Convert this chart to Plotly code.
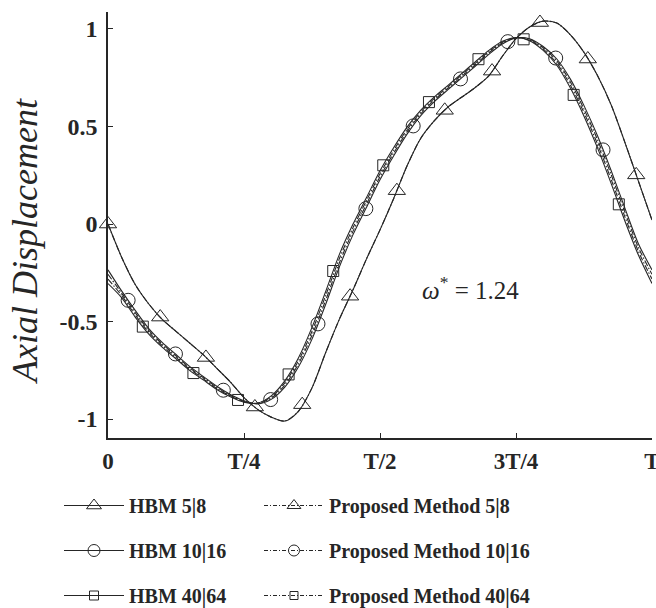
import plotly.graph_objects as go

# ---------------- data ----------------
t = [0.000, 0.025, 0.050, 0.075, 0.100, 0.125, 0.150, 0.175, 0.200, 0.225,
     0.250, 0.275, 0.300, 0.325, 0.350, 0.375, 0.400, 0.425, 0.450, 0.475,
     0.500, 0.525, 0.550, 0.575, 0.600, 0.625, 0.650, 0.675, 0.700, 0.725,
     0.750, 0.775, 0.800, 0.825, 0.850, 0.875, 0.900, 0.925, 0.950, 0.975, 1.000]

hbm_5_8 = [0.00, -0.17, -0.31, -0.41, -0.49, -0.55, -0.61, -0.67, -0.74, -0.81,
           -0.89, -0.95, -0.99, -1.01, -0.96, -0.84, -0.66, -0.49, -0.34, -0.18,
           -0.03, 0.13, 0.30, 0.44, 0.53, 0.60, 0.65, 0.70, 0.76, 0.86,
           0.95, 1.01, 1.04, 1.03, 0.97, 0.88, 0.76, 0.61, 0.42, 0.22, 0.02]
pm_5_8 = [0.00, -0.17, -0.31, -0.41, -0.49, -0.55, -0.61, -0.67, -0.74, -0.81,
          -0.89, -0.95, -0.99, -1.01, -0.96, -0.84, -0.66, -0.49, -0.34, -0.18,
          -0.03, 0.13, 0.30, 0.44, 0.53, 0.60, 0.65, 0.70, 0.76, 0.86,
          0.95, 1.01, 1.04, 1.03, 0.97, 0.88, 0.76, 0.61, 0.42, 0.22, 0.02]
hbm_10_16 = [-0.235, -0.343, -0.443, -0.536, -0.608, -0.669, -0.730, -0.781, -0.832, -0.874,
             -0.906, -0.922, -0.899, -0.836, -0.733, -0.590, -0.413, -0.222, -0.057, 0.085,
             0.227, 0.349, 0.462, 0.556, 0.628, 0.689, 0.749, 0.809, 0.870, 0.923,
             0.954, 0.950, 0.910, 0.846, 0.743, 0.607, 0.451, 0.273, 0.083, -0.101, -0.235]
pm_10_16 = [-0.258, -0.354, -0.454, -0.545, -0.616, -0.676, -0.737, -0.787, -0.837, -0.878,
            -0.909, -0.921, -0.893, -0.826, -0.718, -0.570, -0.392, -0.201, -0.039, 0.101,
            0.242, 0.363, 0.474, 0.565, 0.636, 0.696, 0.756, 0.816, 0.877, 0.928,
            0.955, 0.947, 0.904, 0.836, 0.728, 0.589, 0.431, 0.252, 0.062, -0.120, -0.258]
hbm_40_64 = [-0.305, -0.377, -0.477, -0.564, -0.632, -0.691, -0.750, -0.799, -0.848, -0.886,
             -0.914, -0.918, -0.881, -0.804, -0.687, -0.530, -0.347, -0.158, -0.003, 0.135,
             0.273, 0.391, 0.498, 0.584, 0.652, 0.711, 0.771, 0.831, 0.890, 0.937,
             0.956, 0.940, 0.890, 0.814, 0.697, 0.553, 0.389, 0.207, 0.017, -0.159, -0.305]
pm_40_64 = [-0.282, -0.366, -0.466, -0.555, -0.624, -0.684, -0.744, -0.793, -0.843, -0.882,
            -0.911, -0.919, -0.887, -0.814, -0.702, -0.550, -0.368, -0.179, -0.021, 0.119,
            0.258, 0.377, 0.486, 0.575, 0.644, 0.704, 0.764, 0.824, 0.884, 0.932,
            0.955, 0.943, 0.897, 0.824, 0.712, 0.571, 0.409, 0.228, 0.038, -0.140, -0.282]

# marker positions
tri_t = [0.000, 0.096, 0.180, 0.270, 0.357, 0.445, 0.531, 0.619, 0.706, 0.794, 0.882, 0.971]
tri_v = [0.000, -0.477, -0.684, -0.938, -0.926, -0.370, 0.171, 0.583, 0.784, 1.033, 0.846, 0.252]
cir_t = [0.037, 0.124, 0.212, 0.299, 0.386, 0.474, 0.561, 0.648, 0.735, 0.823, 0.910]
cir_v = [-0.391, -0.666, -0.852, -0.900, -0.512, 0.079, 0.503, 0.744, 0.935, 0.851, 0.380]
sq_t = [0.064, 0.157, 0.239, 0.332, 0.414, 0.506, 0.590, 0.681, 0.764, 0.856, 0.939]
sq_v = [-0.526, -0.764, -0.902, -0.771, -0.241, 0.301, 0.625, 0.845, 0.947, 0.662, 0.101]

x_tick_vals = [0, 0.25, 0.5, 0.75, 1]
x_tick_text = ["0", "T/4", "T/2", "3T/4", "T"]
y_tick_vals = [-1, -0.5, 0, 0.5, 1]
y_tick_text = ["-1", "-0.5", "0", "0.5", "1"]

hbm_names = ["HBM 5|8", "HBM 10|16", "HBM 40|64"]
pm_names = ["Proposed Method 5|8", "Proposed Method 10|16", "Proposed Method 40|64"]
# ----------------------------------------------------------------

INK = "#262626"
DASHDOT = "6px,2px,1.5px,2px"
SERIF = "Liberation Serif"

fig = go.Figure()

line_series = [
    (hbm_5_8, "solid"), (pm_5_8, DASHDOT),
    (hbm_10_16, "solid"), (pm_10_16, DASHDOT),
    (hbm_40_64, "solid"), (pm_40_64, DASHDOT),
]
for vals, dash in line_series:
    fig.add_trace(go.Scatter(
        x=t, y=vals, mode="lines", showlegend=False, hoverinfo="skip",
        line=dict(color=INK, width=1.1, dash=dash, shape="spline", smoothing=0.8)))

marker_sets = [
    (tri_t, tri_v, "triangle-up-open", 15),
    (cir_t, cir_v, "circle-open", 14),
    (sq_t, sq_v, "square-open", 11),
]
for mx, my, sym, size in marker_sets:
    fig.add_trace(go.Scatter(
        x=mx, y=my, mode="markers", showlegend=False, cliponaxis=False,
        marker=dict(symbol=sym, size=size, color=INK, line=dict(color=INK, width=1))))

# legend entries
for i, (name, (mx, my, sym, size)) in enumerate(zip(hbm_names, marker_sets)):
    fig.add_trace(go.Scatter(
        x=[None], y=[None], mode="lines+markers", name=name,
        legend="legend", legendgroup="h%d" % i,
        line=dict(color=INK, width=1.1),
        marker=dict(symbol=sym, size=size - 2, color=INK, line=dict(color=INK, width=1))))
for i, (name, (mx, my, sym, size)) in enumerate(zip(pm_names, marker_sets)):
    fig.add_trace(go.Scatter(
        x=[None], y=[None], mode="lines+markers", name=name,
        legend="legend2", legendgroup="p%d" % i,
        line=dict(color=INK, width=1.0, dash="4px,2px,1px,2px"),
        marker=dict(symbol=sym, size=size - 3, color=INK, line=dict(color=INK, width=1))))

legend_common = dict(
    orientation="v", xref="container", yref="container", xanchor="left", yanchor="top",
    font=dict(family=SERIF, size=20, color=INK, weight="bold"),
    bgcolor="rgba(0,0,0,0)", borderwidth=0, tracegroupgap=16, itemwidth=60,
    traceorder="grouped")

fig.update_layout(
    width=656, height=608,
    margin=dict(l=108, r=4, t=12, b=170, autoexpand=False),
    paper_bgcolor="white", plot_bgcolor="white",
    showlegend=True,
    legend=dict(x=59 / 656, y=1 - 486 / 608, **legend_common),
    legend2=dict(x=259 / 656, y=1 - 486 / 608, **legend_common),
    xaxis=dict(range=[0, 1], tickvals=x_tick_vals, ticktext=x_tick_text,
               showline=True, linecolor=INK, linewidth=1.5, mirror=False,
               ticks="inside", ticklen=5, tickcolor=INK, tickwidth=1.2,
               showgrid=False, zeroline=False, ticklabelstandoff=2, tickangle=0,
               automargin=False, ticklabeloverflow="allow",
               tickfont=dict(family=SERIF, size=23, color=INK, weight="bold")),
    yaxis=dict(range=[-1.097, 1.087], tickvals=y_tick_vals, ticktext=y_tick_text,
               showline=True, linecolor=INK, linewidth=1.5, mirror=False,
               ticks="inside", ticklen=5, tickcolor=INK, tickwidth=1.2,
               showgrid=False, zeroline=False, ticklabelstandoff=4, automargin=False,
               tickfont=dict(family=SERIF, size=24, color=INK, weight="bold")),
    annotations=[
        dict(text="Axial Displacement", textangle=-90, xref="paper", yref="paper",
             x=-0.1526, y=0.4624, xanchor="center", yanchor="middle", showarrow=False,
             font=dict(family=SERIF, size=36, color=INK, style="italic")),
        dict(text="<i>ω</i><sup>*</sup> = 1.24", xref="x", yref="y",
             x=0.667, y=-0.33, xanchor="center", yanchor="middle", showarrow=False,
             font=dict(family=SERIF, size=25, color=INK)),
    ],
)

fig.write_html("out.html", config={"displayModeBar": False},
               post_script="document.body.style.margin='0';")
